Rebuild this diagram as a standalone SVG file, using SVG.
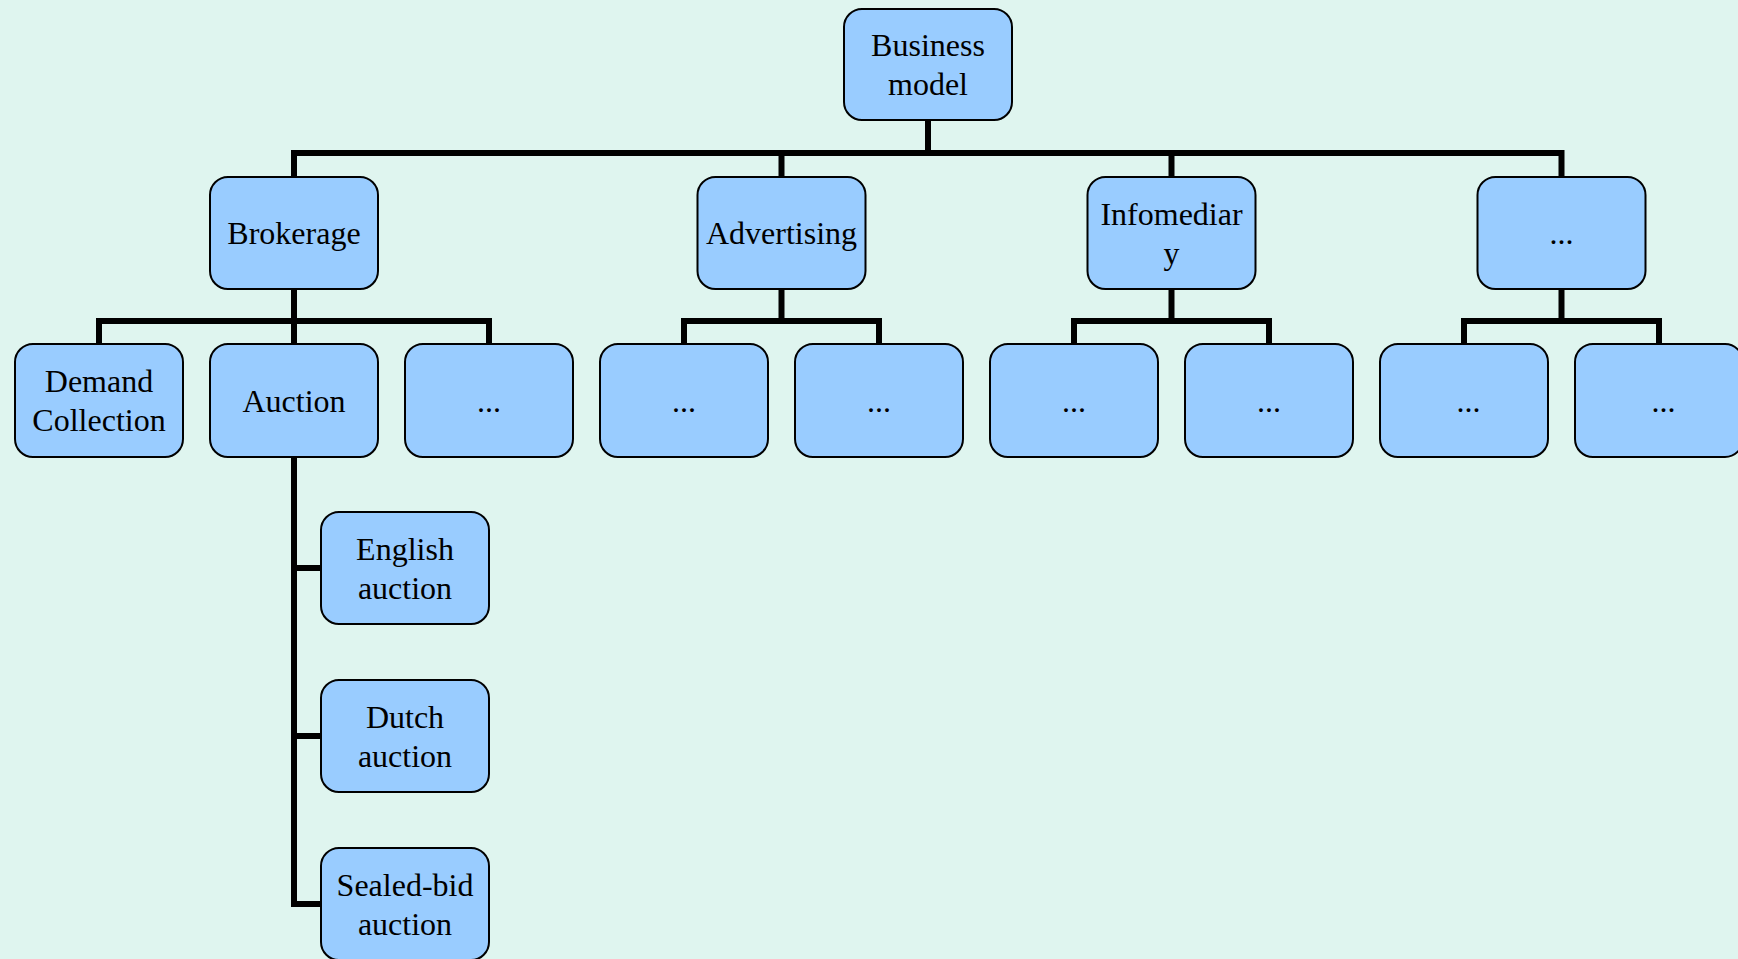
<svg xmlns="http://www.w3.org/2000/svg" width="1738" height="959" viewBox="0 0 1738 959">
  <style>
    .box { fill: #99ccff; stroke: #000; stroke-width: 2; }
    .lbl { font-family: "Liberation Serif", "Times New Roman", serif; font-size: 32px; fill: #000; text-anchor: middle; }
    .wire { fill: none; stroke: #000; stroke-width: 6; stroke-linecap: butt; stroke-linejoin: miter; }
  </style>
  <rect x="0" y="0" width="1738" height="959" fill="#dff5ef"/>

  <g id="connectors">
    <!-- root to first level -->
    <path class="wire" d="M928 120 V153"/>
    <path class="wire" d="M294 177 V153 H1561.5 V177"/>
    <path class="wire" d="M781.5 153 V177"/>
    <path class="wire" d="M1171.5 153 V177"/>
    <!-- Brokerage children -->
    <path class="wire" d="M294 289 V321"/>
    <path class="wire" d="M99 344 V321 H489 V344"/>
    <path class="wire" d="M294 321 V344"/>
    <!-- Advertising children -->
    <path class="wire" d="M781.5 289 V321"/>
    <path class="wire" d="M684 344 V321 H879 V344"/>
    <!-- Infomediary children -->
    <path class="wire" d="M1171.5 289 V321"/>
    <path class="wire" d="M1074 344 V321 H1269 V344"/>
    <!-- last group children -->
    <path class="wire" d="M1561.5 289 V321"/>
    <path class="wire" d="M1464 344 V321 H1659 V344"/>
    <!-- Auction children -->
    <path class="wire" d="M294 457 V904 H321"/>
    <path class="wire" d="M294 568 H321"/>
    <path class="wire" d="M294 736 H321"/>
  </g>

  <g id="business-model">
    <rect class="box" x="844" y="9" width="168" height="111" rx="18"/>
    <text class="lbl" x="928" y="56">Business</text>
    <text class="lbl" x="928" y="95">model</text>
  </g>

  <g id="brokerage">
    <rect class="box" x="210" y="177" width="168" height="112" rx="18"/>
    <text class="lbl" x="294" y="244">Brokerage</text>
  </g>
  <g id="advertising">
    <rect class="box" x="697.5" y="177" width="168" height="112" rx="18"/>
    <text class="lbl" x="781.5" y="244">Advertising</text>
  </g>
  <g id="infomediary">
    <rect class="box" x="1087.5" y="177" width="168" height="112" rx="18"/>
    <text class="lbl" x="1171.5" y="225">Infomediar</text>
    <text class="lbl" x="1171.5" y="264">y</text>
  </g>
  <g id="more-models">
    <rect class="box" x="1477.5" y="177" width="168" height="112" rx="18"/>
    <text class="lbl" x="1561.5" y="244">...</text>
  </g>

  <g id="demand-collection">
    <rect class="box" x="15" y="344" width="168" height="113" rx="18"/>
    <text class="lbl" x="99" y="392">Demand</text>
    <text class="lbl" x="99" y="431">Collection</text>
  </g>
  <g id="auction">
    <rect class="box" x="210" y="344" width="168" height="113" rx="18"/>
    <text class="lbl" x="294" y="412">Auction</text>
  </g>
  <g id="brokerage-more">
    <rect class="box" x="405" y="344" width="168" height="113" rx="18"/>
    <text class="lbl" x="489" y="412">...</text>
  </g>
  <g id="advertising-a">
    <rect class="box" x="600" y="344" width="168" height="113" rx="18"/>
    <text class="lbl" x="684" y="412">...</text>
  </g>
  <g id="advertising-b">
    <rect class="box" x="795" y="344" width="168" height="113" rx="18"/>
    <text class="lbl" x="879" y="412">...</text>
  </g>
  <g id="infomediary-a">
    <rect class="box" x="990" y="344" width="168" height="113" rx="18"/>
    <text class="lbl" x="1074" y="412">...</text>
  </g>
  <g id="infomediary-b">
    <rect class="box" x="1185" y="344" width="168" height="113" rx="18"/>
    <text class="lbl" x="1269" y="412">...</text>
  </g>
  <g id="more-a">
    <rect class="box" x="1380" y="344" width="168" height="113" rx="18"/>
    <text class="lbl" x="1468.5" y="412">...</text>
  </g>
  <g id="more-b">
    <rect class="box" x="1575" y="344" width="168" height="113" rx="18"/>
    <text class="lbl" x="1663.5" y="412">...</text>
  </g>

  <g id="english-auction">
    <rect class="box" x="321" y="512" width="168" height="112" rx="18"/>
    <text class="lbl" x="405" y="560">English</text>
    <text class="lbl" x="405" y="599">auction</text>
  </g>
  <g id="dutch-auction">
    <rect class="box" x="321" y="680" width="168" height="112" rx="18"/>
    <text class="lbl" x="405" y="728">Dutch</text>
    <text class="lbl" x="405" y="767">auction</text>
  </g>
  <g id="sealed-bid-auction">
    <rect class="box" x="321" y="848" width="168" height="112" rx="18"/>
    <text class="lbl" x="405" y="896">Sealed-bid</text>
    <text class="lbl" x="405" y="935">auction</text>
  </g>
</svg>
